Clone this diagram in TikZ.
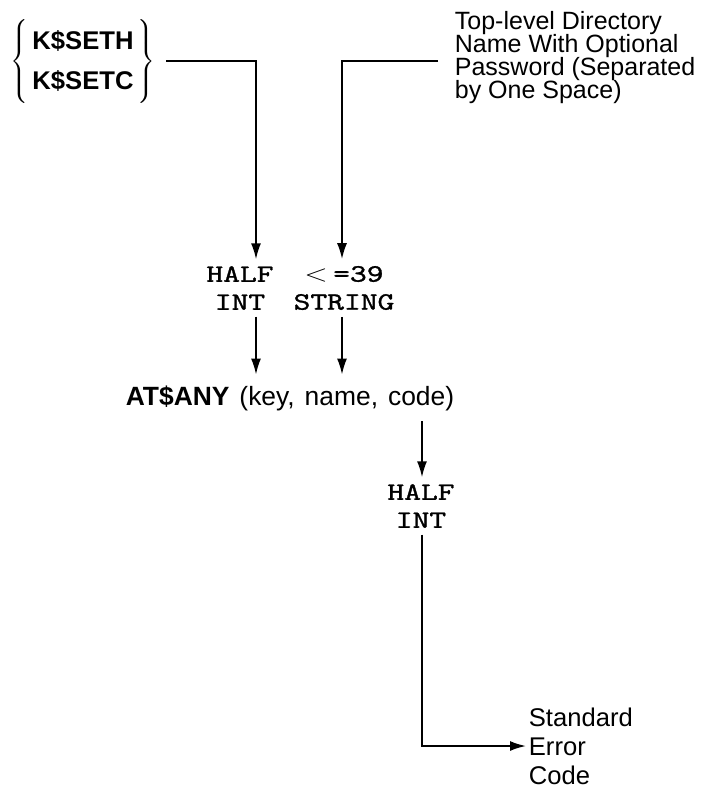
\documentclass[tikz,border=0pt]{standalone}
\usepackage{fontspec}
\setmainfont{Liberation Sans}
\newfontfamily\twfont[FakeBold=1]{lmmono10-regular.otf}
\usepackage{graphicx}
\usetikzlibrary{arrows.meta, calc}

% wide typewriter text
\newcommand{\tw}[1]{\scalebox{1.28}[1]{\twfont #1}}
% tight lines
\newcommand{\tightlines}{\lineskiplimit-20pt\relax}
% wide word spaces
\newcommand{\widesp}{\spaceskip5pt\relax}

\begin{document}
\begin{tikzpicture}[x=0.5pt, y=-0.5pt, >={Latex[length=8pt,width=5pt]}, line width=0.9pt,
    lbl/.style={inner sep=2pt, align=left, font=\fontsize{12.5}{11.5}\selectfont\tightlines},
    ttlbl/.style={inner sep=3pt, align=center, font=\fontsize{12.5}{14}\selectfont}]
    \useasboundingbox (0,0) rectangle (710,789);

    % columns of the arrows
    \coordinate (ax) at (256,0);
    \coordinate (bx) at (342,0);
    \coordinate (cx) at (422,0);

    % texts
    \node[inner sep=5pt, font=\fontsize{12.8}{20}\selectfont] (keys) at (83,61)
        {$\left\{\,\begin{tabular}{@{}l@{}}\bfseries K\$SETH\\\bfseries K\$SETC\end{tabular}\,\right\}$};
    \node[lbl, anchor=west] (dir) at (450,57.5)
        {Top-level Directory\\Name With Optional\\Password (Separated\\by One Space)};
    \node[ttlbl] (hi1) at (240,288) {\tw{HALF}\\\tw{INT}};
    \node[ttlbl] (str) at (344,288) {\tw{$<$\,=39}\\\tw{STRING}};
    \node[lbl, inner sep=5pt, font=\fontsize{13.2}{15}\selectfont\widesp] (call) at (290,398)
        {\textbf{AT\$ANY} (key, name, code)};
    \node[ttlbl] (hi2) at (421,506) {\tw{HALF}\\\tw{INT}};
    \node[lbl, anchor=west, inner sep=1pt, font=\fontsize{12.8}{14.5}\selectfont] (err) at (526,746)
        {Standard\\Error\\Code};

    % connectors
    \draw[->] (keys.east) -| (hi1.north -| ax);
    \draw[->] ($(dir.west)+(-12,3.5)$) -| (str.north -| bx);
    \draw[->] (hi1.south -| ax) -- (call.north -| ax);
    \draw[->] (str.south -| bx) -- (call.north -| bx);
    \draw[->] (call.south -| cx) -- (hi2.north -| cx);
    \draw[->] (hi2.south -| cx) |- (err.west);
\end{tikzpicture}
\end{document}
